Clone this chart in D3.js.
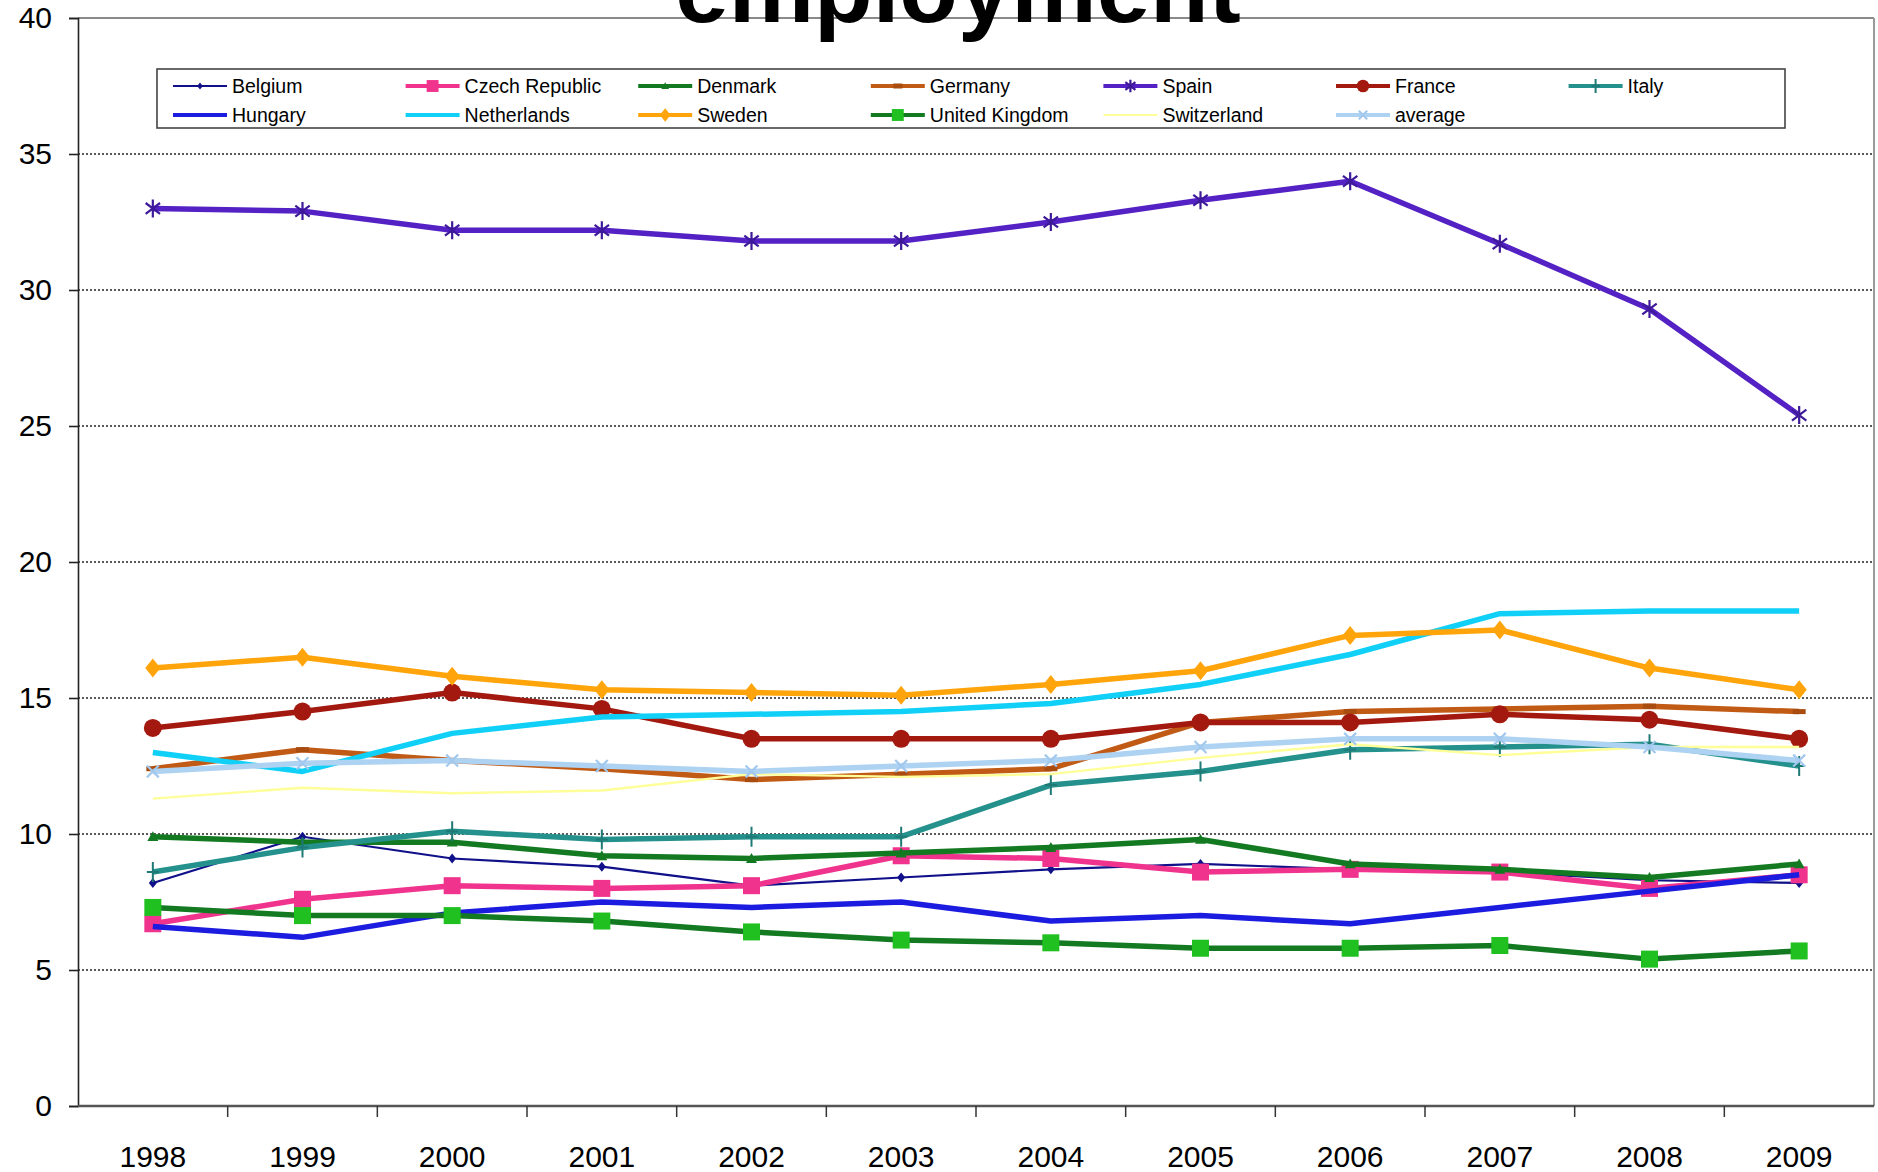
<!DOCTYPE html>
<html>
<head>
<meta charset="utf-8">
<script src="https://cdn.jsdelivr.net/npm/d3@7"></script>
<style>
  html, body { margin: 0; padding: 0; background: #ffffff; }
  svg { display: block; font-family: "Liberation Sans", Arial, sans-serif; }
</style>
</head>
<body>
<svg id="chart" width="1878" height="1172"></svg>
<script>
// Share of temporary employees, 1998-2009 (%)
const years = ["1998", "1999", "2000", "2001", "2002", "2003", "2004", "2005", "2006", "2007", "2008", "2009"];
const yTicks = [0, 5, 10, 15, 20, 25, 30, 35, 40];

const belgium       = [8.2, 9.9, 9.1, 8.8, 8.1, 8.4, 8.7, 8.9, 8.7, 8.6, 8.3, 8.2];
const czechRepublic = [6.7, 7.6, 8.1, 8.0, 8.1, 9.2, 9.1, 8.6, 8.7, 8.6, 8.0, 8.5];
const denmark       = [9.9, 9.7, 9.7, 9.2, 9.1, 9.3, 9.5, 9.8, 8.9, 8.7, 8.4, 8.9];
const germany       = [12.4, 13.1, 12.7, 12.4, 12.0, 12.2, 12.4, 14.1, 14.5, 14.6, 14.7, 14.5];
const spain         = [33.0, 32.9, 32.2, 32.2, 31.8, 31.8, 32.5, 33.3, 34.0, 31.7, 29.3, 25.4];
const france        = [13.9, 14.5, 15.2, 14.6, 13.5, 13.5, 13.5, 14.1, 14.1, 14.4, 14.2, 13.5];
const italy         = [8.6, 9.5, 10.1, 9.8, 9.9, 9.9, 11.8, 12.3, 13.1, 13.2, 13.3, 12.5];
const hungary       = [6.6, 6.2, 7.1, 7.5, 7.3, 7.5, 6.8, 7.0, 6.7, 7.3, 7.9, 8.5];
const netherlands   = [13.0, 12.3, 13.7, 14.3, 14.4, 14.5, 14.8, 15.5, 16.6, 18.1, 18.2, 18.2];
const sweden        = [16.1, 16.5, 15.8, 15.3, 15.2, 15.1, 15.5, 16.0, 17.3, 17.5, 16.1, 15.3];
const unitedKingdom = [7.3, 7.0, 7.0, 6.8, 6.4, 6.1, 6.0, 5.8, 5.8, 5.9, 5.4, 5.7];
const switzerland   = [11.3, 11.7, 11.5, 11.6, 12.2, 12.1, 12.2, 12.8, 13.3, 12.9, 13.2, 13.2];
const average       = [12.3, 12.6, 12.7, 12.5, 12.3, 12.5, 12.7, 13.2, 13.5, 13.5, 13.2, 12.7];

// Series styling: line colour/width, marker shape and fill
const series = [
  { name: "Belgium",        values: belgium,       color: "#10108a", width: 2.2, marker: "diamond",  mColor: "#10108a", mSize: 10 },
  { name: "Czech Republic", values: czechRepublic, color: "#f0348e", width: 5.5, marker: "square",   mColor: "#f0348e", mSize: 17 },
  { name: "Denmark",        values: denmark,       color: "#137a22", width: 5.5, marker: "triangle", mColor: "#137a22", mSize: 11 },
  { name: "Germany",        values: germany,       color: "#c15a14", width: 5.5, marker: "dash",     mColor: "#a94c10", mSize: 13 },
  { name: "Spain",          values: spain,         color: "#5422c4", width: 5.5, marker: "star",     mColor: "#3e1a9a", mSize: 18 },
  { name: "France",         values: france,        color: "#a3190f", width: 5.5, marker: "circle",   mColor: "#a3190f", mSize: 18 },
  { name: "Italy",          values: italy,         color: "#24918d", width: 5.5, marker: "plus",     mColor: "#1f7a76", mSize: 20 },
  { name: "Hungary",        values: hungary,       color: "#1c1ce0", width: 5.5, marker: "none",     mColor: "#1c1ce0", mSize: 0 },
  { name: "Netherlands",    values: netherlands,   color: "#10d0f8", width: 5.5, marker: "none",     mColor: "#10d0f8", mSize: 0 },
  { name: "Sweden",         values: sweden,        color: "#ffa40a", width: 5.5, marker: "diamond",  mColor: "#ffa40a", mSize: 19 },
  { name: "United Kingdom", values: unitedKingdom, color: "#137a22", width: 5.5, marker: "square",   mColor: "#20c020", mSize: 17 },
  { name: "Switzerland",    values: switzerland,   color: "#ffff99", width: 2.4, marker: "none",     mColor: "#ffff99", mSize: 0 },
  { name: "average",        values: average,       color: "#aed2f2", width: 5.5, marker: "cross",    mColor: "#a2c8ee", mSize: 17 }
];

const svg = d3.select("#chart");

const plot = { left: 78, right: 1874, top: 18, bottom: 1106 };

const x = d3.scaleBand().domain(years).range([plot.left, plot.right]);
const y = d3.scaleLinear().domain([0, 40]).range([plot.bottom, plot.top]);
const cx = d => x(d) + x.bandwidth() / 2;

// Dotted horizontal gridlines
svg.append("g")
  .selectAll("line")
  .data(yTicks.filter(t => t > 0 && t < 40))
  .join("line")
  .attr("x1", plot.left).attr("x2", plot.right)
  .attr("y1", d => y(d)).attr("y2", d => y(d))
  .attr("stroke", "#222").attr("stroke-width", 1.6)
  .attr("stroke-dasharray", "2,2");

// Top and right frame lines
svg.append("line")
  .attr("x1", plot.left).attr("x2", plot.right)
  .attr("y1", y(40)).attr("y2", y(40))
  .attr("stroke", "#8a8a8a").attr("stroke-width", 2);
svg.append("line")
  .attr("x1", plot.right).attr("x2", plot.right)
  .attr("y1", y(40)).attr("y2", plot.bottom)
  .attr("stroke", "#9a9a9a").attr("stroke-width", 2);

// Y axis
const yAxis = svg.append("g")
  .attr("transform", `translate(${plot.left},0)`)
  .call(d3.axisLeft(y).tickValues(yTicks).tickFormat(d3.format("d")).tickSize(9).tickPadding(17));
yAxis.select(".domain").attr("stroke", "#222").attr("stroke-width", 1.6);
yAxis.selectAll(".tick line").attr("stroke", "#222").attr("stroke-width", 1.6);
yAxis.selectAll("text")
  .attr("font-size", 30).attr("fill", "#000")
  .attr("font-family", "Liberation Sans, Arial, sans-serif");

// X axis: category labels centred in bands, ticks at band boundaries
const xAxis = svg.append("g")
  .attr("transform", `translate(0,${plot.bottom})`)
  .call(d3.axisBottom(x).tickSize(0).tickPadding(40));
xAxis.select(".domain").remove();
xAxis.selectAll("text")
  .attr("font-size", 30).attr("fill", "#000")
  .attr("font-family", "Liberation Sans, Arial, sans-serif");

svg.append("line")
  .attr("x1", plot.left).attr("x2", plot.right)
  .attr("y1", plot.bottom).attr("y2", plot.bottom)
  .attr("stroke", "#555").attr("stroke-width", 2.5);
svg.append("g")
  .selectAll("line")
  .data(years.slice(1))
  .join("line")
  .attr("x1", d => x(d)).attr("x2", d => x(d))
  .attr("y1", plot.bottom).attr("y2", plot.bottom + 11)
  .attr("stroke", "#333").attr("stroke-width", 1.5);

// Marker path generator
function markerPath(type, s) {
  const h = s / 2;
  switch (type) {
    case "diamond":  return `M0,${-h}L${h * 0.8},0L0,${h}L${-h * 0.8},0Z`;
    case "square":   return `M${-h},${-h}H${h}V${h}H${-h}Z`;
    case "triangle": return `M0,${-h}L${h},${h * 0.8}L${-h},${h * 0.8}Z`;
    case "circle":   return d3.symbol(d3.symbolCircle, Math.PI * h * h)();
    case "dash":     return `M${-h},-2.5H${h}V2.5H${-h}Z`;
    default:         return null;
  }
}
function drawMarker(g, type, s, color) {
  const h = s / 2;
  if (type === "none") return;
  if (type === "star") {
    g.append("path")
      .attr("d", `M0,${-h}V${h}M${-h * 0.8},${-h * 0.6}L${h * 0.8},${h * 0.6}M${-h * 0.8},${h * 0.6}L${h * 0.8},${-h * 0.6}`)
      .attr("stroke", color).attr("stroke-width", 2.2).attr("fill", "none");
  } else if (type === "cross") {
    g.append("path")
      .attr("d", `M${-h * 0.7},${-h * 0.7}L${h * 0.7},${h * 0.7}M${-h * 0.7},${h * 0.7}L${h * 0.7},${-h * 0.7}`)
      .attr("stroke", color).attr("stroke-width", 2.2).attr("fill", "none");
  } else if (type === "plus") {
    g.append("path")
      .attr("d", `M0,${-h}V${h}M${-h * 0.6},0H${h * 0.6}`)
      .attr("stroke", color).attr("stroke-width", 2).attr("fill", "none");
  } else {
    g.append("path").attr("d", markerPath(type, s)).attr("fill", color);
  }
}

// Series lines and markers
const line = d3.line().x((d, i) => cx(years[i])).y(d => y(d));
const seriesG = svg.append("g");
series.forEach(s => {
  const g = seriesG.append("g");
  g.append("path")
    .datum(s.values)
    .attr("d", line)
    .attr("fill", "none")
    .attr("stroke", s.color)
    .attr("stroke-width", s.width)
    .attr("stroke-linejoin", "round");
  s.values.forEach((v, i) => {
    const mg = g.append("g").attr("transform", `translate(${cx(years[i])},${y(v)})`);
    drawMarker(mg, s.marker, s.mSize, s.mColor);
  });
});

// Legend
const legend = svg.append("g");
legend.append("rect")
  .attr("x", 157).attr("y", 69).attr("width", 1628).attr("height", 59)
  .attr("fill", "#fff").attr("stroke", "#444").attr("stroke-width", 1.6);
const colStep = 232.6, rowY = [86, 115];
series.forEach((s, k) => {
  const col = k % 7, row = Math.floor(k / 7);
  const x0 = 173 + col * colStep, yy = rowY[row];
  const g = legend.append("g");
  g.append("line")
    .attr("x1", x0).attr("x2", x0 + 54)
    .attr("y1", yy).attr("y2", yy)
    .attr("stroke", s.color)
    .attr("stroke-width", s.width > 3 ? 3.8 : 2);
  const mg = g.append("g").attr("transform", `translate(${x0 + 27},${yy})`);
  drawMarker(mg, s.marker, s.mSize * 0.7, s.mColor);
  g.append("text")
    .attr("x", x0 + 59).attr("y", yy)
    .attr("dy", "0.36em")
    .attr("font-size", 19.5)
    .attr("fill", "#000")
    .text(s.name);
});

// Title (only its lower line falls inside the canvas)
svg.append("text")
  .attr("x", 958).attr("y", 22)
  .attr("text-anchor", "middle")
  .attr("font-size", 96)
  .attr("font-weight", "bold")
  .attr("fill", "#000")
  .text("employment");
</script>
</body>
</html>
